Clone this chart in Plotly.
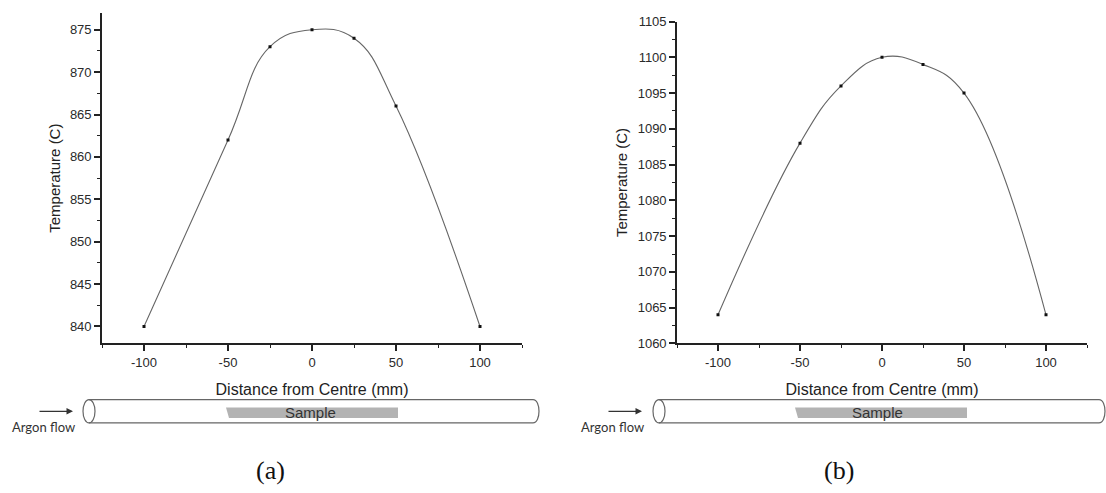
import plotly.graph_objects as go

# Furnace temperature profiles along the tube axis
distance_mm = [-100, -50, -25, 0, 25, 50, 100]
temp_a = [840, 862, 873, 875, 874, 866, 840]
temp_b = [1064, 1088, 1096, 1100, 1099, 1095, 1064]

x_ticks = [-100, -50, 0, 50, 100]
x_tick_text = ["-100", "-50", "0", "50", "100"]
panel_labels = ["(a)", "(b)"]

W, H = 1106, 493


def fx(p):
    return p / W


def fy(p):
    return 1 - p / H


fig = go.Figure()

curve_style = dict(mode="lines+markers",
                   line=dict(shape="spline", smoothing=1.2, color="#666", width=1.1),
                   marker=dict(symbol="square", size=3, color="#111"),
                   showlegend=False, hoverinfo="x+y")

fig.add_trace(go.Scatter(x=distance_mm, y=temp_a, xaxis="x", yaxis="y", **curve_style))
fig.add_trace(go.Scatter(x=distance_mm, y=temp_b, xaxis="x2", yaxis="y2", **curve_style))

tick_font = dict(family="Liberation Sans, Arial", size=13, color="#2a2a2a")
title_font_x = dict(family="Liberation Sans, Arial", size=16, color="#222")
title_font_y = dict(family="Liberation Sans, Arial", size=15, color="#222")

common = dict(showline=True, linecolor="#222", linewidth=1.6, ticks="outside",
              ticklen=6, tickwidth=1.5, tickcolor="#222", showgrid=False,
              zeroline=False, tickfont=tick_font, mirror=False)


def xaxis_cfg(domain, anchor):
    return dict(common, domain=domain, anchor=anchor, range=[-125, 125],
                tickmode="array", tickvals=x_ticks, ticktext=x_tick_text,
                minor=dict(ticks="outside", ticklen=3, tickwidth=1.2,
                           tickcolor="#222", dtick=25, tick0=0, showgrid=False),
                title=dict(text="Distance from Centre (mm)", font=title_font_x,
                           standoff=15))


def yaxis_cfg(domain, anchor, rng, t0):
    return dict(common, domain=domain, anchor=anchor, range=rng,
                dtick=5, tick0=t0,
                minor=dict(ticks="outside", ticklen=3, tickwidth=1.2,
                           tickcolor="#222", dtick=2.5, tick0=t0, showgrid=False),
                title=dict(text="Temperature (C)", font=title_font_y, standoff=6))


fig.update_layout(
    width=W, height=H,
    margin=dict(l=0, r=0, t=0, b=0),
    paper_bgcolor="white", plot_bgcolor="white",
    xaxis=xaxis_cfg([fx(102), fx(522)], "y"),
    yaxis=yaxis_cfg([fy(347), fy(6)], "x", [838, 877], 840),
    xaxis2=xaxis_cfg([fx(677), fx(1087)], "y2"),
    yaxis2=yaxis_cfg([fy(347), fy(15)], "x2", [1060, 1105], 1060),
)

# Schematic of the furnace tube beneath each chart
shapes = []
annotations = []
tube_color = "#666"


def add_tube(cx_left, x_right, y_top, y_bot, s0, s1, text_x, arrow_end, flow_x):
    rx = 6
    # left open end
    shapes.append(dict(type="circle", xref="paper", yref="paper",
                       x0=fx(cx_left - rx), x1=fx(cx_left + rx),
                       y0=fy(y_bot), y1=fy(y_top),
                       line=dict(color=tube_color, width=1.2)))
    # tube body with rounded closed end
    cap = x_right - rx
    k = 4 / 3 * rx
    path = (f"M {fx(cx_left)},{fy(y_top)} L {fx(cap)},{fy(y_top)} "
            f"C {fx(cap + k)},{fy(y_top)} {fx(cap + k)},{fy(y_bot)} {fx(cap)},{fy(y_bot)} "
            f"L {fx(cx_left)},{fy(y_bot)}")
    shapes.append(dict(type="path", xref="paper", yref="paper", path=path,
                       line=dict(color=tube_color, width=1.2)))
    # sample boat
    sy0, sy1 = y_top + 8, y_top + 19
    spath = (f"M {fx(s0)},{fy(sy0)} L {fx(s1)},{fy(sy0)} L {fx(s1)},{fy(sy1)} "
             f"L {fx(s0 + 3)},{fy(sy1)} Z")
    shapes.append(dict(type="path", xref="paper", yref="paper", path=spath,
                       fillcolor="#b3b3b3", line=dict(width=0)))
    annotations.append(dict(text="Sample", xref="paper", yref="paper",
                            x=fx(text_x), y=fy((sy0 + sy1) / 2), showarrow=False,
                            font=dict(family="Liberation Sans, Arial", size=15, color="#333"),
                            xanchor="center", yanchor="middle"))
    # gas flow arrow
    annotations.append(dict(text="", xref="paper", yref="paper",
                            x=fx(arrow_end), y=fy(417), ax=-35, ay=0,
                            showarrow=True, arrowhead=2, arrowsize=1,
                            arrowwidth=1.3, arrowcolor="#333"))
    annotations.append(dict(text="Argon flow", xref="paper", yref="paper",
                            x=fx(flow_x), y=fy(433), showarrow=False,
                            font=dict(family="Lato, Open Sans", size=13, color="#333"),
                            xanchor="center", yanchor="middle"))


add_tube(89, 539, 405, 429, 226, 398, 310, 73, 43.5)
add_tube(659, 1105, 405, 429, 795, 967, 878, 642, 612)

for label, cx in zip(panel_labels, [270, 839]):
    annotations.append(dict(text=label, xref="paper", yref="paper",
                            x=fx(cx), y=fy(478), showarrow=False,
                            font=dict(family="Liberation Serif, DejaVu Serif", size=26, color="#111"),
                            xanchor="center", yanchor="middle"))

fig.update_layout(shapes=shapes, annotations=annotations)

fig.write_html("out.html")
